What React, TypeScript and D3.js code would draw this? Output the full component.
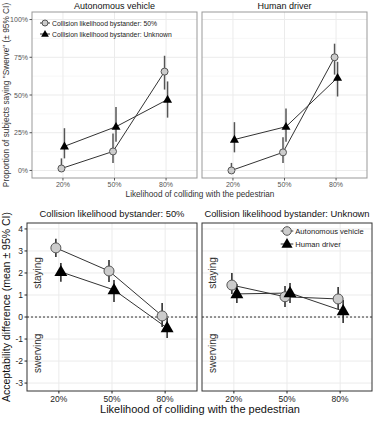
import React from "react";
import * as d3 from "d3";

const levels = ["20%", "50%", "80%"];

// top: proportion saying "Swerve" (%)
const avKnown = [1.3, 12.6, 65.5];
const avKnownLo = [0, 5, 53.6];
const avKnownHi = [8, 24.5, 76];
const avUnknown = [16, 29, 47];
const avUnknownLo = [8, 19, 35];
const avUnknownHi = [28, 42, 59];

const hdKnown = [0, 12, 75];
const hdKnownLo = [0, 5, 63.5];
const hdKnownHi = [5, 22, 84];
const hdUnknown = [20.5, 29, 61.5];
const hdUnknownLo = [12, 19, 49];
const hdUnknownHi = [32, 41, 72];

const pctTicks = [0, 25, 50, 75, 100];
const pctMinor = [12.5, 37.5, 62.5, 87.5];

// bottom: acceptability difference
const b50Av = [3.14, 2.09, 0.05];
const b50AvLo = [2.73, 1.59, -0.45];
const b50AvHi = [3.55, 2.59, 0.64];
const b50Hd = [2.05, 1.23, -0.5];
const b50HdLo = [1.6, 0.68, -0.95];
const b50HdHi = [2.45, 1.68, -0.05];

const bUnkAv = [1.45, 0.92, 0.82];
const bUnkAvLo = [1.05, 0.45, 0.36];
const bUnkAvHi = [2.0, 1.41, 1.36];
const bUnkHd = [1.05, 1.09, 0.27];
const bUnkHdLo = [0.64, 0.64, -0.27];
const bUnkHdHi = [1.5, 1.55, 0.77];

const diffTicks = [-3, -2, -1, 0, 1, 2, 3, 4];

const font = "Liberation Sans, Arial, sans-serif";

type Series = { v: number[]; lo: number[]; hi: number[]; shape: "circle" | "tri" };

function Marker({ shape, x, y, size }: { shape: string; x: number; y: number; size: number }) {
  if (shape === "circle") {
    return <circle cx={x} cy={y} r={size} fill="#cccccc" stroke="#555" strokeWidth={1} />;
  }
  const p = d3.symbol(d3.symbolTriangle, size * size * 2.9)();
  return <path d={p || ""} transform={`translate(${x},${y + 0.5})`} fill="#000" />;
}

function Panel(props: {
  x0: number; x1: number; y0: number; y1: number;
  domain: [number, number]; ticks: number[]; minor: number[];
  fmt: (d: number) => string; showY: boolean; series: Series[];
  big: boolean; title: string; border: string; tickColor: string;
  dodge: [number, number]; zeroLine?: boolean; sideLabels?: boolean;
}) {
  const { x0, x1, y0, y1, big } = props;
  const x = d3.scalePoint<string>().domain(levels).range([x0, x1]).padding(0.6);
  const y = d3.scaleLinear().domain(props.domain).range([y1, y0]);
  const line = d3.line<[number, number]>().x(d => d[0]).y(d => d[1]);
  const tickFs = big ? 8.5 : 7;
  const msize = big ? 5 : 3.5;
  return (
    <g fontFamily={font}>
      <rect x={x0} y={y0} width={x1 - x0} height={y1 - y0} fill="#fff" />
      {props.minor.map(t => (
        <line key={"m" + t} x1={x0} x2={x1} y1={y(t)} y2={y(t)} stroke="#f2f2f2" strokeWidth={0.6} />
      ))}
      {props.ticks.map(t => (
        <line key={"g" + t} x1={x0} x2={x1} y1={y(t)} y2={y(t)} stroke="#ebebeb" strokeWidth={1} />
      ))}
      {levels.map(l => (
        <line key={"v" + l} x1={x(l)} x2={x(l)} y1={y0} y2={y1} stroke="#ebebeb" strokeWidth={1} />
      ))}
      {props.zeroLine && (
        <line x1={x0} x2={x1} y1={y(0)} y2={y(0)} stroke="#333" strokeWidth={1} strokeDasharray="2,2" />
      )}
      {props.sideLabels && (
        <g fontSize={10} fill="#333">
          <text transform={`translate(${x0 + 14},${y(2)}) rotate(-90)`} textAnchor="middle">staying</text>
          <text transform={`translate(${x0 + 14},${y(-1.65)}) rotate(-90)`} textAnchor="middle">swerving</text>
        </g>
      )}
      {props.series.map((s, si) => {
        const pts: [number, number][] = levels.map((l, i) => [(x(l) as number) + props.dodge[si], y(s.v[i])]);
        return (
          <g key={"s" + si}>
            <path d={line(pts) || ""} fill="none" stroke="#333" strokeWidth={1} />
            {levels.map((l, i) => (
              <line key={"e" + i} x1={pts[i][0]} x2={pts[i][0]} y1={y(s.lo[i])} y2={y(s.hi[i])}
                stroke={big ? "#222" : "#555"} strokeWidth={1.5} />
            ))}
          </g>
        );
      })}
      {props.series.map((s, si) => (
        <g key={"p" + si}>
          {levels.map((l, i) => (
            <Marker key={i} shape={s.shape} x={(x(l) as number) + props.dodge[si]} y={y(s.v[i])} size={msize} />
          ))}
        </g>
      ))}
      <rect x={x0} y={y0} width={x1 - x0} height={y1 - y0} fill="none" stroke={props.border} strokeWidth={1} />
      {levels.map(l => (
        <g key={"xt" + l}>
          <line x1={x(l)} x2={x(l)} y1={y1} y2={y1 + 2.5} stroke={props.tickColor} />
          <text x={x(l)} y={y1 + (big ? 11 : 9)} textAnchor="middle" fontSize={tickFs} fill={props.tickColor}>{l}</text>
        </g>
      ))}
      {props.showY && props.ticks.map(t => (
        <g key={"yt" + t}>
          <line x1={x0 - 2.5} x2={x0} y1={y(t)} y2={y(t)} stroke={props.tickColor} />
          <text x={x0 - 4} y={y(t) + 2.7} textAnchor="end" fontSize={tickFs} fill={props.tickColor}>{props.fmt(t)}</text>
        </g>
      ))}
      <text x={(x0 + x1) / 2} y={y0 - (big ? 6 : 3)} textAnchor="middle" fontSize={big ? 9.4 : 9} fill="#111">
        {props.title}
      </text>
    </g>
  );
}

function LegendItem({ x, y, shape, label, fs, ms }: { x: number; y: number; shape: string; label: string; fs: number; ms: number }) {
  return (
    <g fontFamily={font}>
      <line x1={x - ms - 2} x2={x + ms + 2} y1={y} y2={y} stroke="#333" strokeWidth={1} />
      <Marker shape={shape} x={x} y={y} size={ms} />
      <text x={x + ms + 4} y={y + 2.5} fontSize={fs} fill="#222">{label}</text>
    </g>
  );
}

export default function App() {
  const pct = (d: number) => `${d}%`;
  const num = (d: number) => `${d}`;
  return (
    <svg width={381} height={423} style={{ position: "absolute", left: 0, top: 0, background: "#fff" }}>
      <rect width={381} height={423} fill="#fff" />
      <Panel x0={32} x1={197} y0={12} y1={178} domain={[-5, 105]} ticks={pctTicks} minor={pctMinor}
        fmt={pct} showY={true} big={false} title="Autonomous vehicle" border="#999" tickColor="#555"
        dodge={[-1.5, 1.5]}
        series={[
          { v: avKnown, lo: avKnownLo, hi: avKnownHi, shape: "circle" },
          { v: avUnknown, lo: avUnknownLo, hi: avUnknownHi, shape: "tri" },
        ]} />
      <Panel x0={202} x1={367} y0={12} y1={178} domain={[-5, 105]} ticks={pctTicks} minor={pctMinor}
        fmt={pct} showY={false} big={false} title="Human driver" border="#999" tickColor="#555"
        dodge={[-1.5, 1.5]}
        series={[
          { v: hdKnown, lo: hdKnownLo, hi: hdKnownHi, shape: "circle" },
          { v: hdUnknown, lo: hdUnknownLo, hi: hdUnknownHi, shape: "tri" },
        ]} />
      <LegendItem x={45} y={23} shape="circle" label="Collision likelihood bystander: 50%" fs={6.8} ms={3} />
      <LegendItem x={45} y={34} shape="tri" label="Collision likelihood bystander: Unknown" fs={6.8} ms={3} />
      <text x={200} y={197} textAnchor="middle" fontFamily={font} fontSize={8.2} fill="#333">
        Likelihood of colliding with the pedestrian
      </text>
      <text transform="translate(9,95) rotate(-90)" textAnchor="middle" fontFamily={font} fontSize={8.3} fill="#333">
        Proportion of subjects saying "Swerve" (± 95% CI)
      </text>

      <Panel x0={27} x1={197} y0={223} y1={391} domain={[-3.36, 4.27]} ticks={diffTicks} minor={[]}
        fmt={num} showY={true} big={true} title="Collision likelihood bystander: 50%" border="#333" tickColor="#222"
        dodge={[-3, 2]} zeroLine={true} sideLabels={true}
        series={[
          { v: b50Av, lo: b50AvLo, hi: b50AvHi, shape: "circle" },
          { v: b50Hd, lo: b50HdLo, hi: b50HdHi, shape: "tri" },
        ]} />
      <Panel x0={202} x1={372} y0={223} y1={391} domain={[-3.36, 4.27]} ticks={diffTicks} minor={[]}
        fmt={num} showY={false} big={true} title="Collision likelihood bystander: Unknown" border="#333" tickColor="#222"
        dodge={[-2, 3]} zeroLine={true} sideLabels={true}
        series={[
          { v: bUnkAv, lo: bUnkAvLo, hi: bUnkAvHi, shape: "circle" },
          { v: bUnkHd, lo: bUnkHdLo, hi: bUnkHdHi, shape: "tri" },
        ]} />
      <LegendItem x={287} y={231} shape="circle" label="Autonomous vehicle" fs={7.6} ms={4.3} />
      <LegendItem x={287} y={244} shape="tri" label="Human driver" fs={7.6} ms={4.3} />
      <text x={200} y={413} textAnchor="middle" fontFamily={font} fontSize={11} fill="#111">
        Likelihood of colliding with the pedestrian
      </text>
      <text transform="translate(10,307) rotate(-90)" textAnchor="middle" fontFamily={font} fontSize={10.5} fill="#111">
        Acceptability difference (mean ± 95% CI)
      </text>
    </svg>
  );
}
